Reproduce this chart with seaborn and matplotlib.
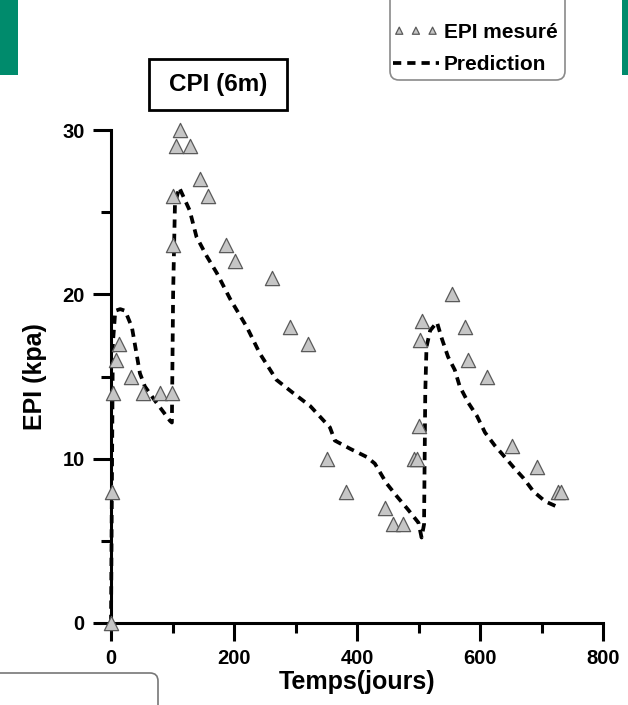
import matplotlib
matplotlib.use("Agg")
import matplotlib.pyplot as plt
from matplotlib.patches import Rectangle, FancyBboxPatch
from matplotlib.ticker import MultipleLocator
import seaborn as sns

# Measured pore pressure (EPI) at the CPI sensor, 6 m depth
jours_mesure = [0, 1, 3, 8, 13, 33, 52, 80, 99, 100, 101, 106, 112, 128, 144,
                157, 187, 202, 261, 291, 321, 351, 382, 445, 458, 474, 493,
                498, 501, 502, 505, 554, 576, 581, 611, 652, 692, 727, 731]
epi_mesure = [0, 8, 14, 16, 17, 15, 14, 14, 14, 23, 26, 29, 30, 29, 27,
              26, 23, 22, 21, 18, 17, 10, 8, 7, 6, 6, 10,
              10, 12, 17.2, 18.4, 20, 18, 16, 15, 10.8, 9.5, 8, 8]

# Predicted EPI
jours_pred = [0, 3, 7, 15, 23, 34, 47, 55, 74, 96, 99, 101, 104, 111, 128,
              139, 156, 172, 194, 221, 242, 269, 296, 324, 356, 364, 389,
              416, 429, 448, 465, 483, 500, 505, 509, 511, 513, 519, 530,
              538, 548, 559, 567, 581, 595, 608, 624, 638, 654, 671, 687,
              706, 730]
epi_pred = [0, 17, 19, 19.1, 19, 18, 15.2, 14.4, 13.4, 12.3, 12.2, 20, 25.5,
            26.5, 25.1, 23.5, 22.3, 21.3, 19.7, 18, 16.4, 14.8, 14, 13.2,
            11.9, 11.1, 10.6, 10.1, 9.7, 8.5, 7.7, 6.9, 6.1, 5.2, 6, 14,
            16.8, 17.8, 18.3, 17.3, 16.2, 15.4, 14.4, 13.4, 12.6, 11.6, 10.8,
            10.2, 9.5, 8.8, 8.0, 7.4, 7.0]

sns.set_style("ticks")
plt.rcParams["font.family"] = ["Liberation Sans", "DejaVu Sans"]
plt.rcParams["font.weight"] = "bold"
for key in ("text.color", "axes.labelcolor", "xtick.color", "ytick.color",
            "xtick.labelcolor", "ytick.labelcolor"):
    plt.rcParams[key] = "black"

W, H = 628, 705
fig = plt.figure(figsize=(W / 100, H / 100), dpi=100)
ax = fig.add_axes([111 / W, 1 - 623 / H, 492 / W, 493 / H])

sns.lineplot(x=jours_pred, y=epi_pred, sort=False, estimator=None,
             color="black", linewidth=2.7, ax=ax, label="Prediction",
             zorder=2, clip_on=False)
ax.lines[0].set_dashes((2.2, 1.6))

sns.scatterplot(x=jours_mesure, y=epi_mesure, marker="^", s=105,
                color="#c6c6c6", edgecolor="#5a5a5a", linewidth=0.9,
                ax=ax, label="EPI mesuré", zorder=3, clip_on=False)

ax.set_xlim(0, 800)
ax.set_ylim(0, 30)
ax.set_xticks([0, 200, 400, 600, 800])
ax.set_yticks([0, 10, 20, 30])
ax.xaxis.set_minor_locator(MultipleLocator(100))
ax.yaxis.set_minor_locator(MultipleLocator(5))
ax.tick_params(which="major", length=13, width=2.2, direction="out",
               labelsize=14.5, pad=6, color="black")
ax.tick_params(which="minor", length=7, width=2.2, direction="out",
               color="black")
for lab in ax.get_xticklabels() + ax.get_yticklabels():
    lab.set_fontweight("bold")

sns.despine(ax=ax)
for side in ("left", "bottom"):
    ax.spines[side].set_linewidth(2.2)
    ax.spines[side].set_color("black")

ax.set_xlabel("Temps(jours)", fontsize=18, fontweight="bold")
ax.set_ylabel("EPI (kpa)", fontsize=18, fontweight="bold")
ax.xaxis.set_label_coords(0.5, (623 - 670) / 493)
ax.yaxis.set_label_coords((47 - 111) / 492, 0.5)

# Legend, framed by a rounded box
handles, labels = ax.get_legend_handles_labels()
order = [labels.index("EPI mesuré"), labels.index("Prediction")]
leg = ax.legend([handles[i] for i in order], [labels[i] for i in order],
                loc="upper left", bbox_to_anchor=(3.93, (H - 23) / 100),
                bbox_transform=fig.dpi_scale_trans, frameon=False,
                scatterpoints=3, scatteryoffsets=[0.5], markerscale=0.5,
                handlelength=2.2, handletextpad=0.25, labelspacing=0.62,
                borderpad=0, borderaxespad=0,
                prop={"size": 15, "weight": "bold"})
fig.add_artist(FancyBboxPatch((3.90, (H - 80) / 100), 1.75, 0.9,
                              boxstyle="round,pad=0,rounding_size=0.09",
                              transform=fig.dpi_scale_trans,
                              facecolor="none", edgecolor="#8a8a8a",
                              linewidth=1.2, clip_on=False))

# Title box
fig.add_artist(Rectangle((1.49, (H - 110) / 100), 1.38, 0.51,
                         transform=fig.dpi_scale_trans, facecolor="white",
                         edgecolor="black", linewidth=2.0))
fig.text(2.18, (H - 85) / 100, "CPI (6m)", transform=fig.dpi_scale_trans,
         ha="center", va="center", fontsize=17.5, fontweight="bold")

# Side bars and lower-left panel frame
green = "#008b6c"
fig.add_artist(Rectangle((0, (H - 75) / 100), 0.18, 0.75,
                         transform=fig.dpi_scale_trans, color=green, lw=0))
fig.add_artist(Rectangle((6.22, (H - 75) / 100), 0.1, 0.75,
                         transform=fig.dpi_scale_trans, color=green, lw=0))
fig.add_artist(FancyBboxPatch((-0.1, -0.5), 1.68, (H - 673) / 100 + 0.5,
                              boxstyle="round,pad=0,rounding_size=0.08",
                              transform=fig.dpi_scale_trans,
                              facecolor="none", edgecolor="#777777",
                              linewidth=1.2))

fig.savefig("out.png", dpi=100)
